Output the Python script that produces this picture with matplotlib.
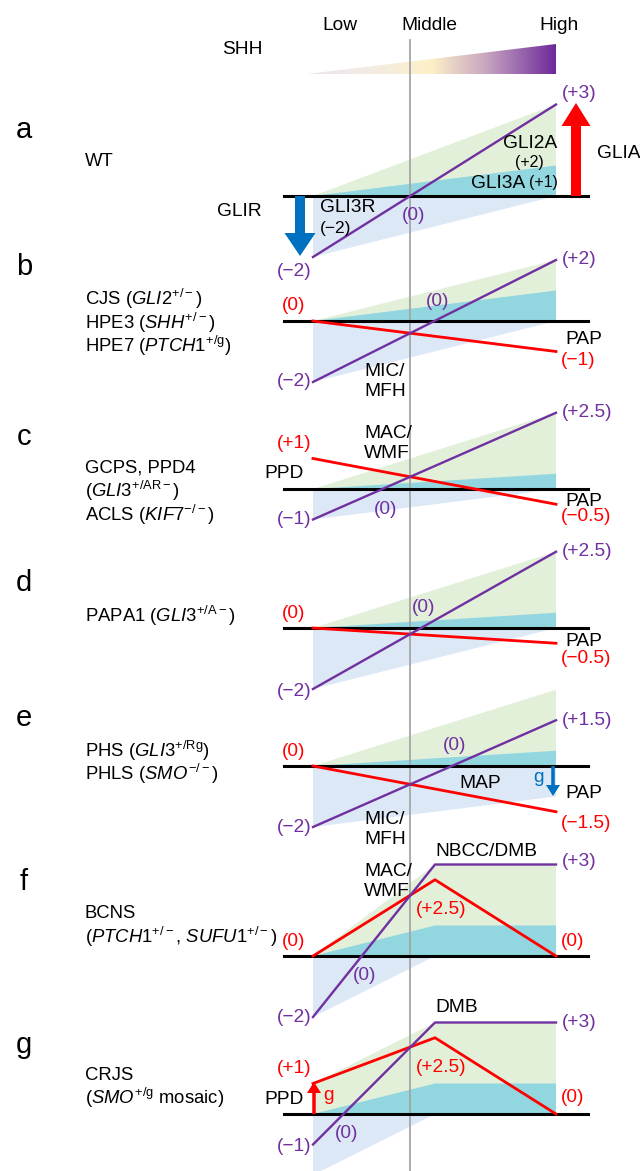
import numpy as np
import matplotlib.pyplot as plt
from matplotlib.patches import Polygon, FancyArrow
from matplotlib.colors import LinearSegmentedColormap

plt.rcParams['font.family'] = ['Liberation Sans', 'DejaVu Sans']
plt.rcParams['mathtext.fontset'] = 'custom'
plt.rcParams['mathtext.rm'] = 'Liberation Sans'
plt.rcParams['mathtext.it'] = 'Liberation Sans:italic'

# ---- data: activity levels (arbitrary units) per panel
panel_letters = ['a', 'b', 'c', 'd', 'e', 'f', 'g']
genotypes = [
    ['WT'],
    [r'CJS ($\mathit{GLI2}^{+/-}$)', r'HPE3 ($\mathit{SHH}^{+/-}$)',
     r'HPE7 ($\mathit{PTCH1}^{+/\mathrm{g}}$)'],
    ['GCPS, PPD4', r'($\mathit{GLI3}^{+/\mathrm{AR}-}$)', r'ACLS ($\mathit{KIF7}^{-/-}$)'],
    [r'PAPA1 ($\mathit{GLI3}^{+/\mathrm{A}-}$)'],
    [r'PHS ($\mathit{GLI3}^{+/\mathrm{Rg}}$)', r'PHLS ($\mathit{SMO}^{-/-}$)'],
    ['BCNS', r'($\mathit{PTCH1}^{+/-}$, $\mathit{SUFU1}^{+/-}$)'],
    ['CRJS', r'($\mathit{SMO}^{+/\mathrm{g}}$ mosaic)'],
]
kinked = [False, False, False, False, False, True, True]
purple_low = [-2, -2, -1, -2, -2, -2, -1]
purple_high = [3, 2, 2.5, 2.5, 1.5, 3, 3]
red_low = [np.nan, 0, 1, 0, 0, 0, 1]
red_peak = [np.nan, np.nan, np.nan, np.nan, np.nan, 2.5, 2.5]
red_high = [np.nan, -1, -0.5, -0.5, -1.5, 0, 0]
glia_low = [0, 0, 0, 0, 0, 0, 1]        # green (total GLI activator)
glia_high = [3, 2, 2.5, 2.5, 2.5, 3, 3]
gli3a_high = [1, 1, 0.5, 0.5, 0.5, 1, 1]  # cyan
gli3r_low = [-2, -2, -1, -2, -2, -2, -2]  # light blue
gli3r_high = [0, 0, 0, 0, -1, 0, 0]

# ---- layout (pixels)
base_y = [196, 321, 489, 628, 766, 956, 1114]
letter_y = [130, 267, 437, 583, 718, 882, 1045]
geno_y = [[162], [299, 323, 346], [468, 491, 515], [616], [751, 774], [914, 937], [1075, 1098]]
U = 30.5
XL, XK, XR, XMID = 313, 435, 556, 410
purple_low_dy = [14, 0, 0, 2, 0, 0, 2]
purple_high_dy = [-11, 0, 0, 0, 0, -3, 0]
red_high_dy = [0, 9, 12, 15, 12, -15, -16]
zero_side = [1, -1, 1, -1, -1, 1, 1]

C_GREEN = '#e2efd9'
C_CYAN = '#92d7df'
C_BLUE = '#dce8f5'
C_PURPLE = '#7030a0'
C_RED = '#ff0000'
C_ARROW = '#0070c0'
FS = 13.8
FS_GENO = 13.3


def lab(v):
    if v == 0:
        return '(0)'
    return '(' + f'{v:+g}'.replace('-', '\u2212') + ')'


fig = plt.figure(figsize=(6.4, 11.71), dpi=100)
ax = fig.add_axes([0, 0, 1, 1])

# SHH gradient wedge
cmap = LinearSegmentedColormap.from_list('shh', [
    (0.0, '#ebe3ef'), (0.25, '#f3ece3'), (0.5, '#fdf0c8'),
    (0.72, '#c8a5c0'), (1.0, '#6c2a9a')])
grad = np.linspace(0, 1, 256).reshape(1, -1)
im = ax.imshow(grad, cmap=cmap, extent=(307, 556, 74, 44), aspect='auto', zorder=1)
wedge = Polygon([(307, 74), (556, 44), (556, 74)], closed=True, fc='none', ec='none')
ax.add_patch(wedge)
im.set_clip_path(wedge)

for txt, x in [('Low', 340), ('Middle', 429), ('High', 559)]:
    ax.text(x, 26, txt, fontsize=FS, ha='center', va='center')
ax.text(242, 50, 'SHH', fontsize=FS, ha='center', va='center')

ax.plot([XMID, XMID], [40, 1171], color='#a6a6a6', lw=1.3, zorder=3)

for i in range(len(panel_letters)):
    yb = base_y[i]

    def py(v):
        return yb - v * U

    if kinked[i]:
        green = [(XL, py(0)), (XL, py(glia_low[i])), (XK, py(glia_high[i])),
                 (XR, py(glia_high[i])), (XR, py(0))]
        cyan = [(XL, py(0)), (XK, py(gli3a_high[i])), (XR, py(gli3a_high[i])), (XR, py(0))]
        blue = [(XL, py(0)), (XL, py(gli3r_low[i])), (XK, py(0))]
        px_purple = [XL, XK, XR]
        py_purple = [py(purple_low[i]), py(purple_high[i]), py(purple_high[i])]
        px_red = [XL, XK, XR]
        py_red = [py(red_low[i]), py(red_peak[i]), py(red_high[i])]
    else:
        green = [(XL, py(glia_low[i])), (XR, py(glia_high[i])), (XR, py(0))]
        cyan = [(XL, py(0)), (XR, py(gli3a_high[i])), (XR, py(0))]
        blue = [(XL, py(0)), (XL, py(gli3r_low[i])), (XR, py(gli3r_high[i])), (XR, py(0))]
        px_purple = [XL, XR]
        py_purple = [py(purple_low[i]), py(purple_high[i])]
        px_red = [XL, XR]
        py_red = [py(red_low[i]), py(red_high[i])]

    ax.add_patch(Polygon(green, closed=True, fc=C_GREEN, ec='none', zorder=2))
    ax.add_patch(Polygon(cyan, closed=True, fc=C_CYAN, ec='none', zorder=2))
    ax.add_patch(Polygon(blue, closed=True, fc=C_BLUE, ec='none', zorder=2))
    ax.plot([284, 588], [yb, yb], color='black', lw=2.2, zorder=4)

    if not np.isnan(red_low[i]):
        ax.plot(px_red, py_red, color=C_RED, lw=2.0, zorder=5)
        ax.text(294, py(red_low[i]) - 15, lab(red_low[i]), color=C_RED, fontsize=FS,
                ha='center', va='center')
        ax.text(561, py(red_high[i]) + red_high_dy[i], lab(red_high[i]), color=C_RED,
                fontsize=FS, ha='left', va='center')
        if kinked[i]:
            ax.text(441, py(red_peak[i]) + 30, lab(red_peak[i]), color=C_RED,
                    fontsize=FS, ha='center', va='center')
    ax.plot(px_purple, py_purple, color=C_PURPLE, lw=1.7, zorder=6)

    ax.text(294, py(purple_low[i]) + purple_low_dy[i], lab(purple_low[i]),
            color=C_PURPLE, fontsize=FS, ha='center', va='center')
    ax.text(562, py(purple_high[i]) + purple_high_dy[i], lab(purple_high[i]),
            color=C_PURPLE, fontsize=FS, ha='left', va='center')

    # zero crossing of the purple line
    x_end = XK if kinked[i] else XR
    x0 = XL + (x_end - XL) * (-purple_low[i]) / (purple_high[i] - purple_low[i])
    ax.text(x0 + 3, yb + 20 * zero_side[i], '(0)', color=C_PURPLE, fontsize=FS,
            ha='center', va='center')

    ax.text(24, letter_y[i], panel_letters[i], fontsize=21, ha='center', va='center')
    for g, gy in zip(genotypes[i], geno_y[i]):
        ax.text(85, gy, g, fontsize=FS_GENO, ha='left', va='center')

# GLIR / GLIA arrows in panel a
ax.add_patch(FancyArrow(300, base_y[0], 0, 60, width=10, head_width=31, head_length=23,
                        length_includes_head=True, color=C_ARROW, lw=0, zorder=7))
ax.add_patch(FancyArrow(576, base_y[0], 0, -93, width=10, head_width=29, head_length=23,
                        length_includes_head=True, color=C_RED, lw=0, zorder=7))
# small gain-of-function arrows
ax.add_patch(FancyArrow(553, base_y[4], 0, 30, width=3.5, head_width=14, head_length=11,
                        length_includes_head=True, color=C_ARROW, lw=0, zorder=7))
ax.add_patch(FancyArrow(314, base_y[6], 0, -32, width=3.5, head_width=14, head_length=11,
                        length_includes_head=True, color=C_RED, lw=0, zorder=7))

notes = [
    (262, 212, 'GLIR', 'black', FS, 'right'),
    (597, 153, 'GLIA', 'black', FS, 'left'),
    (530, 143, 'GLI2A', 'black', FS, 'center'),
    (529, 162, '(+2)', 'black', 11.5, 'center'),
    (525, 183, 'GLI3A', 'black', FS, 'right'),
    (529, 183, '(+1)', 'black', 11.5, 'left'),
    (320, 208, 'GLI3R', 'black', FS, 'left'),
    (320, 228, '(\u22122)', 'black', 12.5, 'left'),
    (584, 340, 'PAP', 'black', FS, 'center'),
    (364, 372, 'MIC/', 'black', FS, 'left'),
    (364, 392, 'MFH', 'black', FS, 'left'),
    (364, 433, 'MAC/', 'black', FS, 'left'),
    (364, 453, 'WMF', 'black', FS, 'left'),
    (284, 473, 'PPD', 'black', FS, 'center'),
    (584, 501, 'PAP', 'black', FS, 'center'),
    (584, 641, 'PAP', 'black', FS, 'center'),
    (480, 784, 'MAP', 'black', FS, 'center'),
    (538, 778, 'g', C_ARROW, FS, 'center'),
    (584, 794, 'PAP', 'black', FS, 'center'),
    (364, 819, 'MIC/', 'black', FS, 'left'),
    (364, 839, 'MFH', 'black', FS, 'left'),
    (435, 852, 'NBCC/DMB', 'black', FS, 'left'),
    (364, 872, 'MAC/', 'black', FS, 'left'),
    (364, 892, 'WMF', 'black', FS, 'left'),
    (435, 1007, 'DMB', 'black', FS, 'left'),
    (284, 1099, 'PPD', 'black', FS, 'center'),
    (329, 1095, 'g', C_RED, FS, 'center'),
]
for x, y, t, c, s, ha in notes:
    ax.text(x, y, t, color=c, fontsize=s, ha=ha, va='center', zorder=8)

ax.set_xlim(0, 640)
ax.set_ylim(1171, 0)
ax.axis('off')
fig.savefig('out.png', dpi=100)
